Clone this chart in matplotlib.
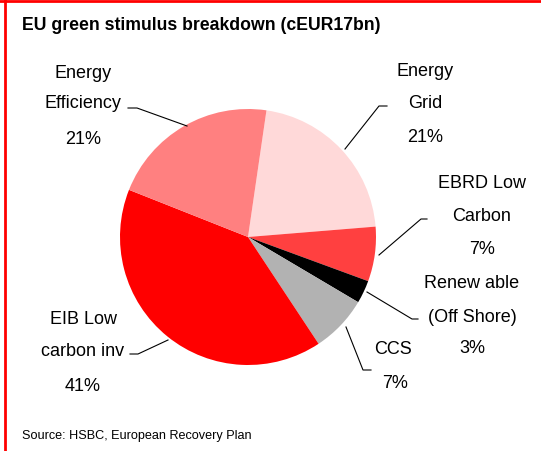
import matplotlib
matplotlib.use("Agg")
import matplotlib.pyplot as plt
from matplotlib.lines import Line2D

# Data
categories = ["Energy\nGrid", "EBRD Low\nCarbon", "Renew able\n(Off Shore)", "CCS",
              "EIB Low\ncarbon inv", "Energy\nEfficiency"]
shares = [21.4, 6.9, 2.9, 7.2, 40.3, 21.3]
pct_labels = ["21%", "7%", "3%", "7%", "41%", "21%"]
colors = ["#FFD9D9", "#FF4040", "#000000", "#B2B2B2", "#FF0000", "#FF8080"]

W, H = 541, 452
fig = plt.figure(figsize=(W / 100, H / 100), dpi=100)
ax = fig.add_axes([0, 0, 1, 1])
ax.set_xlim(0, W)
ax.set_ylim(0, H)
ax.set_aspect("equal")
ax.axis("off")

def Y(y):
    return H - y

ax.pie(shares, colors=colors, startangle=81.7, counterclock=False,
       center=(248, Y(238)), radius=128, frame=True,
       wedgeprops=dict(linewidth=0))
ax.set_xlim(0, W)
ax.set_ylim(0, H)
ax.axis("off")

font = dict(family="Liberation Sans", fontsize=13, color="black")

# label positions (text center x, name-line y's, pct y) and leader lines
specs = [
    # Energy Grid
    dict(x=425, ys=[72, 103], pct=(425, 137), line=[(387, 107), (379, 107), (345, 150)]),
    # EBRD
    dict(x=482, ys=[184, 217], pct=(482, 250), line=[(427, 220), (421, 220), (379, 256)]),
    # Renewable
    dict(x=472, ys=[284, 317], pct=(472, 349), line=[(418, 320), (412, 320), (367, 293)]),
    # CCS
    dict(x=393, ys=[350], pct=(395, 384), line=[(371, 371), (363, 371), (346, 328)]),
    # EIB
    dict(x=83, ys=[319, 352], pct=(83, 387), line=[(130, 355), (138, 355), (168, 341)]),
    # Efficiency
    dict(x=83, ys=[73, 104], pct=(83, 139), line=[(128, 109), (137, 109), (187, 127)]),
]

for cat, pl, s in zip(categories, pct_labels, specs):
    for line_txt, y in zip(cat.split("\n"), s["ys"]):
        ax.text(s["x"], Y(y), line_txt, ha="center", va="center", **font)
    ax.text(s["pct"][0], Y(s["pct"][1]), pl, ha="center", va="center", **font)
    xs = [p[0] for p in s["line"]]
    ys = [Y(p[1]) for p in s["line"]]
    ax.plot(xs, ys, color="black", lw=0.8)

# Title and source
ax.text(22, Y(25), "EU green stimulus breakdown (cEUR17bn)", ha="left", va="center",
        family="Liberation Sans", fontsize=12.7, fontweight="bold")
ax.text(22, Y(436), "Source: HSBC, European Recovery Plan", ha="left", va="center",
        family="Liberation Sans", fontsize=9.1)

# Red frame: top and left
fig.add_artist(Line2D([0, 1], [1 - 2 / H, 1 - 2 / H], color="#FF0000", lw=2, transform=fig.transFigure))
fig.add_artist(Line2D([5 / W, 5 / W], [0, 1 - 1 / H], color="#FF0000", lw=2, transform=fig.transFigure))

fig.savefig("out.png", dpi=100)
